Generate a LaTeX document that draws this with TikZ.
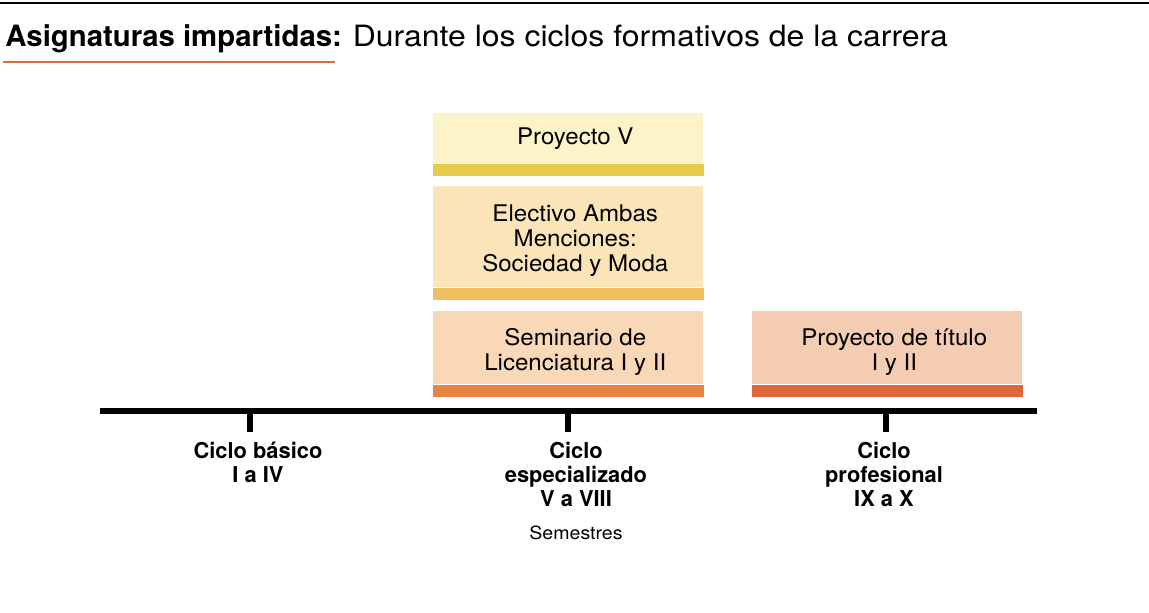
\documentclass[tikz,border=0pt]{standalone}
\usepackage{fontspec}
\setmainfont{TeX Gyre Heros}
\usetikzlibrary{positioning}
\definecolor{titlerule}{HTML}{E4683C}
\definecolor{fillpv}{HTML}{FDF3C9}
\definecolor{barpv}{HTML}{E7CB4B}
\definecolor{fillel}{HTML}{FBE5B8}
\definecolor{barel}{HTML}{F0BF62}
\definecolor{fillsem}{HTML}{F8D8B6}
\definecolor{barsem}{HTML}{E68440}
\definecolor{filltit}{HTML}{F4CCB1}
\definecolor{bartit}{HTML}{DF673A}

\begin{document}
\begin{tikzpicture}[x=0.75pt,y=-0.75pt,
    every node/.style={align=center},
    subject/.style={inner sep=0pt,minimum width=202.5pt,anchor=north west},
    subjtext/.style={inner sep=0pt,
        font=\addfontfeature{FakeStretch=1.05}\fontsize{17.2}{18.75}\selectfont},
    cycle/.style={anchor=north,inner sep=0pt,font=\bfseries\fontsize{16.4}{18}\selectfont}]
        \useasboundingbox (0,0) rectangle (1149,612);
        % heading
        \draw[line width=2.2pt] (0,3) -- (1149,3);
        \node[anchor=base west,inner sep=0pt,font=\fontsize{22}{24}\selectfont] (title) at (5,46)
              {\textbf{Asignaturas impartidas:} {\addfontfeature{FakeStretch=1.09}Durante los ciclos formativos de la carrera}};
        \draw[titlerule,line width=2.2pt] (3,62) -- (335,62);
        % subjects
        \node[subject,fill=fillpv,minimum height=37.5pt] (pv) at (433,113) {};
        \fill[barpv] (pv.south west) rectangle ([yshift=-9pt]pv.south east);
        \node[subjtext] (pvtext) at ([shift={(7,0)}]pv.center) {Proyecto V};
        \node[subject,fill=fillel,minimum height=75.75pt] (elect) at (433,186) {};
        \fill[barel] (elect.south west) rectangle ([yshift=-9pt]elect.south east);
        \node[subjtext] (electtext) at ([shift={(7,4)}]elect.center) {Electivo Ambas\\Menciones:\\Sociedad y Moda};
        \node[subject,fill=fillsem,minimum height=54.75pt] (sem) at (433,311) {};
        \fill[barsem] (sem.south west) rectangle ([yshift=-9pt]sem.south east);
        \node[subjtext] (semtext) at ([shift={(7,4)}]sem.center) {Seminario de\\Licenciatura I y II};
        \node[subject,fill=filltit,minimum height=54.75pt] (tit) at (752,311) {};
        \fill[bartit] (tit.south west) rectangle ([yshift=-9pt]tit.south east);
        \node[subjtext] (tittext) at ([shift={(7,4)}]tit.center) {Proyecto de título\\I y II};
        % time line
        \coordinate (start) at (100,411);
        \coordinate (end) at (1037,411);
        \draw[line width=4.5pt] (start) -- (end);
        \foreach \name/\xpos in {basic/250,spec/568,prof/886} {
            \coordinate (\name) at (\xpos,411);
            \draw[line width=4.5pt] (\name) -- ++(0,21);
        }
        \node[cycle] (lbasic) at (258,442) {Ciclo básico\\I a IV};
        \node[cycle] (lspec) at (576,442) {Ciclo\\especializado\\V a VIII};
        \node[cycle] (lprof) at (884,442) {Ciclo\\profesional\\IX a X};
        \node[inner sep=0pt,font=\addfontfeature{FakeStretch=1.08}\fontsize{13.6}{15}\selectfont,below=14pt of lspec] (semlabel) {Semestres};
      \end{tikzpicture}
\end{document}
